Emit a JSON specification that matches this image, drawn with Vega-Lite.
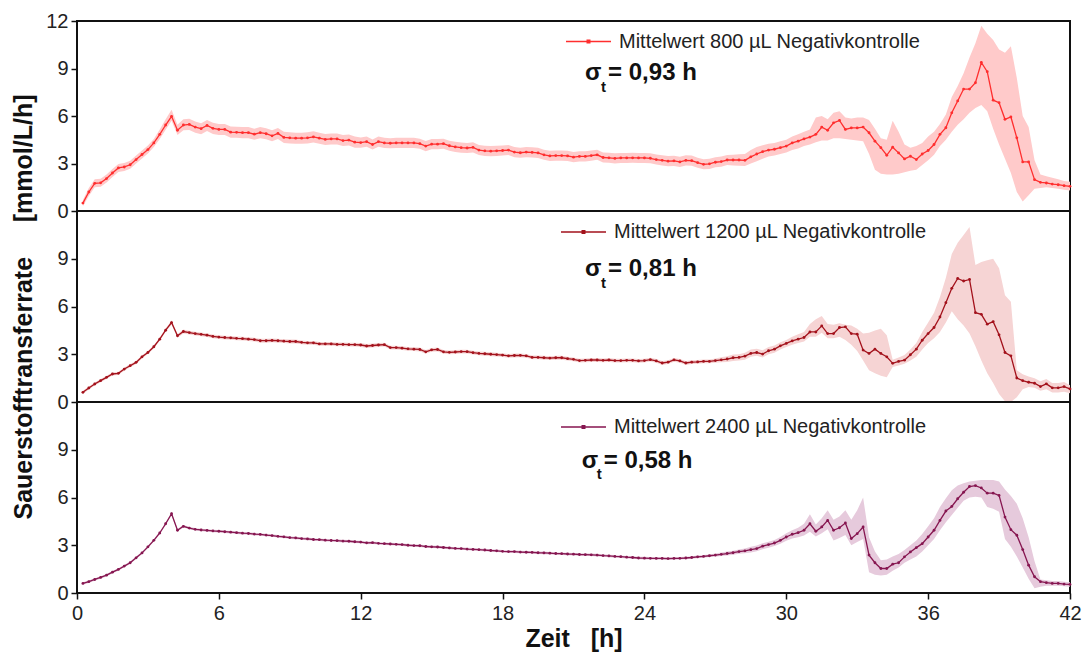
{
"$schema": "https://vega.github.io/schema/vega-lite/v6.json",
"padding": {"left": 10, "top": 10, "right": 5, "bottom": 5},
"background": "white",
"spacing": 0,
"bounds": "flush",
"datasets": {
"a": [
{"t":0.25,"m":0.5,"l":0.3,"h":0.7},{"t":0.5,"m":1.2,"l":0.95,"h":1.45},{"t":0.75,"m":1.75,"l":1.5,"h":2.0},{"t":1.0,"m":1.78,"l":1.53,"h":2.03},{"t":1.25,"m":2.05,"l":1.8,"h":2.3},{"t":1.5,"m":2.4,"l":2.15,"h":2.65},{"t":1.75,"m":2.72,"l":2.47,"h":2.97},{"t":2.0,"m":2.78,"l":2.53,"h":3.03},{"t":2.25,"m":2.92,"l":2.67,"h":3.17},{"t":2.5,"m":3.25,"l":3.0,"h":3.5},{"t":2.75,"m":3.57,"l":3.32,"h":3.82},{"t":3.0,"m":3.88,"l":3.63,"h":4.13},{"t":3.25,"m":4.3,"l":4.05,"h":4.55},{"t":3.5,"m":4.84,"l":4.55,"h":5.15},{"t":3.75,"m":5.43,"l":5.13,"h":5.8},{"t":4.0,"m":5.98,"l":5.7,"h":6.4},
{"t":4.25,"m":5.1,"l":4.8,"h":5.45},{"t":4.5,"m":5.43,"l":5.1,"h":5.8},{"t":4.75,"m":5.47,"l":5.12,"h":5.82},{"t":5.0,"m":5.3,"l":4.95,"h":5.65},{"t":5.25,"m":5.2,"l":4.85,"h":5.55},{"t":5.5,"m":5.4,"l":5.05,"h":5.75},{"t":5.75,"m":5.22,"l":4.87,"h":5.57},{"t":6.0,"m":5.15,"l":4.8,"h":5.5},{"t":6.25,"m":5.15,"l":4.8,"h":5.5},{"t":6.5,"m":4.98,"l":4.63,"h":5.33},{"t":6.75,"m":4.97,"l":4.62,"h":5.32},{"t":7.0,"m":4.95,"l":4.6,"h":5.3},{"t":7.25,"m":4.95,"l":4.6,"h":5.3},{"t":7.5,"m":4.85,"l":4.5,"h":5.2},{"t":7.75,"m":4.95,"l":4.6,"h":5.3},{"t":8.0,"m":4.88,"l":4.53,"h":5.23},
{"t":8.25,"m":4.75,"l":4.4,"h":5.1},{"t":8.5,"m":4.9,"l":4.55,"h":5.25},{"t":8.75,"m":4.65,"l":4.3,"h":5.0},{"t":9.0,"m":4.62,"l":4.27,"h":4.97},{"t":9.25,"m":4.6,"l":4.25,"h":4.95},{"t":9.5,"m":4.6,"l":4.25,"h":4.95},{"t":9.75,"m":4.62,"l":4.27,"h":4.97},{"t":10.0,"m":4.68,"l":4.33,"h":5.03},{"t":10.25,"m":4.6,"l":4.25,"h":4.95},{"t":10.5,"m":4.52,"l":4.17,"h":4.87},{"t":10.75,"m":4.55,"l":4.2,"h":4.9},{"t":11.0,"m":4.55,"l":4.2,"h":4.9},{"t":11.25,"m":4.45,"l":4.1,"h":4.8},{"t":11.5,"m":4.48,"l":4.13,"h":4.83},{"t":11.75,"m":4.35,"l":4.0,"h":4.7},{"t":12.0,"m":4.32,"l":4.0,"h":4.64},
{"t":12.25,"m":4.38,"l":4.06,"h":4.7},{"t":12.5,"m":4.2,"l":3.88,"h":4.52},{"t":12.75,"m":4.38,"l":4.06,"h":4.7},{"t":13.0,"m":4.3,"l":3.98,"h":4.62},{"t":13.25,"m":4.28,"l":3.96,"h":4.6},{"t":13.5,"m":4.3,"l":3.98,"h":4.62},{"t":13.75,"m":4.3,"l":3.98,"h":4.62},{"t":14.0,"m":4.3,"l":3.98,"h":4.62},{"t":14.25,"m":4.3,"l":3.98,"h":4.62},{"t":14.5,"m":4.25,"l":3.93,"h":4.57},{"t":14.75,"m":4.1,"l":3.78,"h":4.42},{"t":15.0,"m":4.22,"l":3.9,"h":4.54},{"t":15.25,"m":4.22,"l":3.9,"h":4.54},{"t":15.5,"m":4.25,"l":3.93,"h":4.57},{"t":15.75,"m":4.12,"l":3.8,"h":4.44},{"t":16.0,"m":4.05,"l":3.73,"h":4.37},
{"t":16.25,"m":4.0,"l":3.68,"h":4.32},{"t":16.5,"m":3.98,"l":3.66,"h":4.3},{"t":16.75,"m":4.02,"l":3.7,"h":4.34},{"t":17.0,"m":3.85,"l":3.53,"h":4.17},{"t":17.25,"m":3.8,"l":3.48,"h":4.12},{"t":17.5,"m":3.78,"l":3.46,"h":4.1},{"t":17.75,"m":3.8,"l":3.48,"h":4.12},{"t":18.0,"m":3.82,"l":3.5,"h":4.14},{"t":18.25,"m":3.85,"l":3.53,"h":4.17},{"t":18.5,"m":3.72,"l":3.4,"h":4.04},{"t":18.75,"m":3.68,"l":3.36,"h":4.0},{"t":19.0,"m":3.72,"l":3.4,"h":4.04},{"t":19.25,"m":3.7,"l":3.38,"h":4.02},{"t":19.5,"m":3.67,"l":3.35,"h":3.99},{"t":19.75,"m":3.55,"l":3.23,"h":3.87},{"t":20.0,"m":3.48,"l":3.16,"h":3.8},
{"t":20.25,"m":3.5,"l":3.18,"h":3.82},{"t":20.5,"m":3.5,"l":3.18,"h":3.82},{"t":20.75,"m":3.48,"l":3.16,"h":3.8},{"t":21.0,"m":3.4,"l":3.08,"h":3.72},{"t":21.25,"m":3.45,"l":3.13,"h":3.77},{"t":21.5,"m":3.45,"l":3.13,"h":3.77},{"t":21.75,"m":3.5,"l":3.18,"h":3.82},{"t":22.0,"m":3.55,"l":3.23,"h":3.87},{"t":22.25,"m":3.38,"l":3.06,"h":3.7},{"t":22.5,"m":3.36,"l":3.04,"h":3.68},{"t":22.75,"m":3.32,"l":3.0,"h":3.64},{"t":23.0,"m":3.35,"l":3.03,"h":3.67},{"t":23.25,"m":3.35,"l":3.03,"h":3.67},{"t":23.5,"m":3.36,"l":3.04,"h":3.68},{"t":23.75,"m":3.35,"l":3.03,"h":3.67},{"t":24.0,"m":3.35,"l":3.03,"h":3.67},
{"t":24.25,"m":3.33,"l":3.01,"h":3.65},{"t":24.5,"m":3.25,"l":2.93,"h":3.57},{"t":24.75,"m":3.2,"l":2.88,"h":3.52},{"t":25.0,"m":3.15,"l":2.83,"h":3.47},{"t":25.25,"m":3.17,"l":2.85,"h":3.49},{"t":25.5,"m":3.1,"l":2.78,"h":3.42},{"t":25.75,"m":3.2,"l":2.88,"h":3.52},{"t":26.0,"m":3.18,"l":2.86,"h":3.5},{"t":26.25,"m":3.05,"l":2.73,"h":3.37},{"t":26.5,"m":2.95,"l":2.63,"h":3.27},{"t":26.75,"m":2.98,"l":2.66,"h":3.3},{"t":27.0,"m":3.08,"l":2.76,"h":3.4},{"t":27.25,"m":3.12,"l":2.8,"h":3.44},{"t":27.5,"m":3.22,"l":2.9,"h":3.54},{"t":27.75,"m":3.22,"l":2.88,"h":3.56},{"t":28.0,"m":3.22,"l":2.86,"h":3.58},
{"t":28.25,"m":3.2,"l":2.85,"h":3.6},{"t":28.5,"m":3.42,"l":3.0,"h":3.85},{"t":28.75,"m":3.6,"l":3.15,"h":4.05},{"t":29.0,"m":3.75,"l":3.3,"h":4.15},{"t":29.25,"m":3.85,"l":3.45,"h":4.25},{"t":29.5,"m":3.9,"l":3.5,"h":4.3},{"t":29.75,"m":4.0,"l":3.6,"h":4.4},{"t":30.0,"m":4.1,"l":3.7,"h":4.5},{"t":30.25,"m":4.3,"l":3.85,"h":4.7},{"t":30.5,"m":4.41,"l":3.95,"h":4.85},{"t":30.75,"m":4.55,"l":4.1,"h":5.0},{"t":31.0,"m":4.67,"l":4.2,"h":5.15},{"t":31.25,"m":4.84,"l":4.35,"h":5.9},{"t":31.5,"m":5.3,"l":4.45,"h":6.0},{"t":31.75,"m":5.1,"l":4.45,"h":5.8},{"t":32.0,"m":5.57,"l":4.6,"h":6.2},
{"t":32.25,"m":5.72,"l":4.6,"h":6.3},{"t":32.5,"m":5.15,"l":4.55,"h":5.9},{"t":32.75,"m":5.25,"l":4.5,"h":5.85},{"t":33.0,"m":5.25,"l":4.45,"h":5.9},{"t":33.25,"m":5.3,"l":4.4,"h":5.9},{"t":33.5,"m":4.94,"l":3.6,"h":5.75},{"t":33.75,"m":4.41,"l":2.6,"h":5.2},{"t":34.0,"m":4.0,"l":2.35,"h":4.6},{"t":34.25,"m":3.52,"l":2.3,"h":4.5},{"t":34.5,"m":4.03,"l":2.3,"h":5.7},{"t":34.75,"m":3.67,"l":2.35,"h":5.0},{"t":35.0,"m":3.29,"l":2.45,"h":4.2},{"t":35.25,"m":3.46,"l":2.55,"h":4.0},{"t":35.5,"m":3.25,"l":2.6,"h":4.1},{"t":35.75,"m":3.6,"l":2.9,"h":4.3},{"t":36.0,"m":3.82,"l":3.2,"h":4.7},
{"t":36.25,"m":4.2,"l":3.55,"h":5.0},{"t":36.5,"m":4.84,"l":4.1,"h":5.5},{"t":36.75,"m":5.26,"l":4.5,"h":6.1},{"t":37.0,"m":6.2,"l":5.0,"h":7.2},{"t":37.25,"m":6.95,"l":5.45,"h":7.9},{"t":37.5,"m":7.7,"l":5.8,"h":8.7},{"t":37.75,"m":7.7,"l":6.2,"h":9.7},{"t":38.0,"m":8.1,"l":6.5,"h":10.6},{"t":38.25,"m":9.38,"l":6.7,"h":11.7},{"t":38.5,"m":8.8,"l":6.3,"h":11.2},{"t":38.75,"m":7.0,"l":5.2,"h":10.8},{"t":39.0,"m":6.84,"l":4.2,"h":10.2},{"t":39.25,"m":5.79,"l":3.3,"h":10.0},{"t":39.5,"m":5.94,"l":2.4,"h":10.4},{"t":39.75,"m":4.62,"l":1.2,"h":8.4},{"t":40.0,"m":3.1,"l":0.6,"h":6.0},
{"t":40.25,"m":3.1,"l":1.0,"h":5.3},{"t":40.5,"m":1.98,"l":1.4,"h":3.2},{"t":40.75,"m":1.81,"l":1.45,"h":2.3},{"t":41.0,"m":1.77,"l":1.5,"h":2.2},{"t":41.25,"m":1.7,"l":1.45,"h":2.1},{"t":41.5,"m":1.66,"l":1.4,"h":2.0},{"t":41.75,"m":1.6,"l":1.35,"h":1.9},{"t":42.0,"m":1.56,"l":1.3,"h":1.85}
],
"b": [
{"t":0.25,"m":0.61,"l":0.51,"h":0.71},{"t":0.5,"m":0.88,"l":0.78,"h":0.98},{"t":0.75,"m":1.13,"l":1.03,"h":1.23},{"t":1.0,"m":1.34,"l":1.24,"h":1.44},{"t":1.25,"m":1.55,"l":1.45,"h":1.65},{"t":1.5,"m":1.76,"l":1.66,"h":1.86},{"t":1.75,"m":1.8,"l":1.7,"h":1.9},{"t":2.0,"m":2.07,"l":1.97,"h":2.17},{"t":2.25,"m":2.28,"l":2.18,"h":2.38},{"t":2.5,"m":2.49,"l":2.39,"h":2.59},{"t":2.75,"m":2.84,"l":2.74,"h":2.94},{"t":3.0,"m":3.11,"l":3.01,"h":3.21},{"t":3.25,"m":3.47,"l":3.37,"h":3.57},{"t":3.5,"m":3.95,"l":3.85,"h":4.05},{"t":3.75,"m":4.51,"l":4.41,"h":4.61},{"t":4.0,"m":4.99,"l":4.85,"h":5.13},
{"t":4.25,"m":4.16,"l":4.04,"h":4.28},{"t":4.5,"m":4.43,"l":4.31,"h":4.55},{"t":4.75,"m":4.36,"l":4.24,"h":4.48},{"t":5.0,"m":4.3,"l":4.18,"h":4.42},{"t":5.25,"m":4.25,"l":4.13,"h":4.37},{"t":5.5,"m":4.2,"l":4.08,"h":4.32},{"t":5.75,"m":4.12,"l":4.0,"h":4.24},{"t":6.0,"m":4.08,"l":3.96,"h":4.2},{"t":6.25,"m":4.05,"l":3.93,"h":4.17},{"t":6.5,"m":4.03,"l":3.91,"h":4.15},{"t":6.75,"m":4.0,"l":3.88,"h":4.12},{"t":7.0,"m":3.98,"l":3.86,"h":4.1},{"t":7.25,"m":3.95,"l":3.83,"h":4.07},{"t":7.5,"m":3.92,"l":3.8,"h":4.04},{"t":7.75,"m":3.85,"l":3.73,"h":3.97},{"t":8.0,"m":3.85,"l":3.73,"h":3.97},
{"t":8.25,"m":3.87,"l":3.75,"h":3.99},{"t":8.5,"m":3.85,"l":3.73,"h":3.97},{"t":8.75,"m":3.82,"l":3.7,"h":3.94},{"t":9.0,"m":3.8,"l":3.68,"h":3.92},{"t":9.25,"m":3.8,"l":3.68,"h":3.92},{"t":9.5,"m":3.75,"l":3.63,"h":3.87},{"t":9.75,"m":3.72,"l":3.6,"h":3.84},{"t":10.0,"m":3.72,"l":3.6,"h":3.84},{"t":10.25,"m":3.65,"l":3.53,"h":3.77},{"t":10.5,"m":3.65,"l":3.53,"h":3.77},{"t":10.75,"m":3.65,"l":3.53,"h":3.77},{"t":11.0,"m":3.62,"l":3.5,"h":3.74},{"t":11.25,"m":3.62,"l":3.5,"h":3.74},{"t":11.5,"m":3.6,"l":3.48,"h":3.72},{"t":11.75,"m":3.6,"l":3.48,"h":3.72},{"t":12.0,"m":3.58,"l":3.46,"h":3.7},
{"t":12.25,"m":3.52,"l":3.4,"h":3.64},{"t":12.5,"m":3.55,"l":3.43,"h":3.67},{"t":12.75,"m":3.58,"l":3.46,"h":3.7},{"t":13.0,"m":3.6,"l":3.48,"h":3.72},{"t":13.25,"m":3.42,"l":3.3,"h":3.54},{"t":13.5,"m":3.42,"l":3.3,"h":3.54},{"t":13.75,"m":3.38,"l":3.26,"h":3.5},{"t":14.0,"m":3.34,"l":3.22,"h":3.46},{"t":14.25,"m":3.32,"l":3.2,"h":3.44},{"t":14.5,"m":3.3,"l":3.18,"h":3.42},{"t":14.75,"m":3.15,"l":3.03,"h":3.27},{"t":15.0,"m":3.28,"l":3.16,"h":3.4},{"t":15.25,"m":3.3,"l":3.18,"h":3.42},{"t":15.5,"m":3.15,"l":3.03,"h":3.27},{"t":15.75,"m":3.12,"l":3.0,"h":3.24},{"t":16.0,"m":3.14,"l":3.02,"h":3.26},
{"t":16.25,"m":3.17,"l":3.05,"h":3.29},{"t":16.5,"m":3.16,"l":3.04,"h":3.28},{"t":16.75,"m":3.1,"l":2.98,"h":3.22},{"t":17.0,"m":3.05,"l":2.93,"h":3.17},{"t":17.25,"m":3.03,"l":2.91,"h":3.15},{"t":17.5,"m":3.0,"l":2.88,"h":3.12},{"t":17.75,"m":2.98,"l":2.86,"h":3.1},{"t":18.0,"m":2.95,"l":2.83,"h":3.07},{"t":18.25,"m":2.9,"l":2.78,"h":3.02},{"t":18.5,"m":2.92,"l":2.8,"h":3.04},{"t":18.75,"m":2.93,"l":2.81,"h":3.05},{"t":19.0,"m":2.9,"l":2.78,"h":3.02},{"t":19.25,"m":2.8,"l":2.68,"h":2.92},{"t":19.5,"m":2.8,"l":2.68,"h":2.92},{"t":19.75,"m":2.78,"l":2.66,"h":2.9},{"t":20.0,"m":2.76,"l":2.64,"h":2.88},
{"t":20.25,"m":2.78,"l":2.66,"h":2.9},{"t":20.5,"m":2.78,"l":2.66,"h":2.9},{"t":20.75,"m":2.72,"l":2.6,"h":2.84},{"t":21.0,"m":2.68,"l":2.56,"h":2.8},{"t":21.25,"m":2.6,"l":2.48,"h":2.72},{"t":21.5,"m":2.62,"l":2.5,"h":2.74},{"t":21.75,"m":2.64,"l":2.52,"h":2.76},{"t":22.0,"m":2.64,"l":2.52,"h":2.76},{"t":22.25,"m":2.62,"l":2.5,"h":2.74},{"t":22.5,"m":2.64,"l":2.52,"h":2.76},{"t":22.75,"m":2.6,"l":2.48,"h":2.72},{"t":23.0,"m":2.6,"l":2.48,"h":2.72},{"t":23.25,"m":2.62,"l":2.5,"h":2.74},{"t":23.5,"m":2.62,"l":2.5,"h":2.74},{"t":23.75,"m":2.58,"l":2.46,"h":2.7},{"t":24.0,"m":2.6,"l":2.48,"h":2.72},
{"t":24.25,"m":2.66,"l":2.54,"h":2.78},{"t":24.5,"m":2.58,"l":2.46,"h":2.7},{"t":24.75,"m":2.45,"l":2.33,"h":2.57},{"t":25.0,"m":2.5,"l":2.38,"h":2.62},{"t":25.25,"m":2.65,"l":2.53,"h":2.77},{"t":25.5,"m":2.58,"l":2.46,"h":2.7},{"t":25.75,"m":2.45,"l":2.33,"h":2.57},{"t":26.0,"m":2.5,"l":2.38,"h":2.62},{"t":26.25,"m":2.52,"l":2.4,"h":2.64},{"t":26.5,"m":2.55,"l":2.43,"h":2.67},{"t":26.75,"m":2.55,"l":2.43,"h":2.67},{"t":27.0,"m":2.6,"l":2.46,"h":2.74},{"t":27.25,"m":2.65,"l":2.49,"h":2.81},{"t":27.5,"m":2.7,"l":2.52,"h":2.88},{"t":27.75,"m":2.78,"l":2.58,"h":2.98},{"t":28.0,"m":2.8,"l":2.6,"h":3.0},
{"t":28.25,"m":2.88,"l":2.66,"h":3.1},{"t":28.5,"m":3.05,"l":2.85,"h":3.3},{"t":28.75,"m":3.11,"l":2.9,"h":3.35},{"t":29.0,"m":3.01,"l":2.8,"h":3.25},{"t":29.25,"m":3.22,"l":3.0,"h":3.45},{"t":29.5,"m":3.32,"l":3.1,"h":3.55},{"t":29.75,"m":3.53,"l":3.3,"h":3.75},{"t":30.0,"m":3.68,"l":3.45,"h":3.9},{"t":30.25,"m":3.84,"l":3.6,"h":4.1},{"t":30.5,"m":3.95,"l":3.7,"h":4.25},{"t":30.75,"m":4.05,"l":3.8,"h":4.4},{"t":31.0,"m":4.4,"l":4.1,"h":4.9},{"t":31.25,"m":4.4,"l":4.1,"h":5.2},{"t":31.5,"m":4.78,"l":4.35,"h":5.4},{"t":31.75,"m":4.3,"l":4.0,"h":4.9},{"t":32.0,"m":4.3,"l":4.0,"h":4.85},
{"t":32.25,"m":4.68,"l":4.1,"h":4.95},{"t":32.5,"m":4.72,"l":3.9,"h":4.85},{"t":32.75,"m":4.3,"l":3.6,"h":4.8},{"t":33.0,"m":4.26,"l":3.2,"h":4.6},{"t":33.25,"m":3.26,"l":2.6,"h":4.3},{"t":33.5,"m":3.05,"l":2.0,"h":4.35},{"t":33.75,"m":3.32,"l":1.8,"h":4.5},{"t":34.0,"m":3.05,"l":1.65,"h":4.6},{"t":34.25,"m":2.84,"l":1.55,"h":4.2},{"t":34.5,"m":2.43,"l":2.2,"h":2.65},{"t":34.75,"m":2.55,"l":2.3,"h":2.8},{"t":35.0,"m":2.63,"l":2.4,"h":2.95},{"t":35.25,"m":2.97,"l":2.6,"h":3.3},{"t":35.5,"m":3.32,"l":2.85,"h":3.7},{"t":35.75,"m":3.88,"l":3.3,"h":4.4},{"t":36.0,"m":4.3,"l":3.7,"h":5.0},
{"t":36.25,"m":4.68,"l":4.0,"h":5.6},{"t":36.5,"m":5.34,"l":4.4,"h":6.6},{"t":36.75,"m":6.24,"l":5.0,"h":7.8},{"t":37.0,"m":7.14,"l":5.7,"h":9.3},{"t":37.25,"m":7.76,"l":5.2,"h":10.0},{"t":37.5,"m":7.6,"l":4.8,"h":10.5},{"t":37.75,"m":7.7,"l":4.3,"h":11.0},{"t":38.0,"m":5.61,"l":3.5,"h":8.6},{"t":38.25,"m":5.51,"l":2.6,"h":8.8},{"t":38.5,"m":4.89,"l":1.8,"h":8.9},{"t":38.75,"m":5.05,"l":1.2,"h":9.0},{"t":39.0,"m":4.22,"l":0.5,"h":8.4},{"t":39.25,"m":3.11,"l":0.05,"h":6.7},{"t":39.5,"m":2.9,"l":0.0,"h":6.3},{"t":39.75,"m":1.51,"l":0.3,"h":2.0},{"t":40.0,"m":1.34,"l":0.8,"h":1.75},
{"t":40.25,"m":1.24,"l":0.95,"h":1.6},{"t":40.5,"m":1.18,"l":0.9,"h":1.5},{"t":40.75,"m":0.97,"l":0.7,"h":1.3},{"t":41.0,"m":1.14,"l":0.8,"h":1.45},{"t":41.25,"m":0.89,"l":0.6,"h":1.2},{"t":41.5,"m":0.89,"l":0.6,"h":1.2},{"t":41.75,"m":0.97,"l":0.65,"h":1.25},{"t":42.0,"m":0.82,"l":0.55,"h":1.05}
],
"c": [
{"t":0.25,"m":0.6,"l":0.52,"h":0.68},{"t":0.5,"m":0.71,"l":0.63,"h":0.79},{"t":0.75,"m":0.85,"l":0.77,"h":0.93},{"t":1.0,"m":0.98,"l":0.9,"h":1.06},{"t":1.25,"m":1.12,"l":1.04,"h":1.2},{"t":1.5,"m":1.31,"l":1.23,"h":1.39},{"t":1.75,"m":1.48,"l":1.4,"h":1.56},{"t":2.0,"m":1.69,"l":1.61,"h":1.77},{"t":2.25,"m":1.9,"l":1.82,"h":1.98},{"t":2.5,"m":2.21,"l":2.13,"h":2.29},{"t":2.75,"m":2.52,"l":2.44,"h":2.6},{"t":3.0,"m":2.9,"l":2.82,"h":2.98},{"t":3.25,"m":3.31,"l":3.23,"h":3.39},{"t":3.5,"m":3.77,"l":3.69,"h":3.85},{"t":3.75,"m":4.35,"l":4.27,"h":4.43},{"t":4.0,"m":4.98,"l":4.88,"h":5.08},
{"t":4.25,"m":3.94,"l":3.86,"h":4.02},{"t":4.5,"m":4.19,"l":4.11,"h":4.27},{"t":4.75,"m":4.08,"l":4.0,"h":4.16},{"t":5.0,"m":4.0,"l":3.92,"h":4.08},{"t":5.25,"m":3.96,"l":3.88,"h":4.04},{"t":5.5,"m":3.93,"l":3.85,"h":4.01},{"t":5.75,"m":3.9,"l":3.82,"h":3.98},{"t":6.0,"m":3.88,"l":3.8,"h":3.96},{"t":6.25,"m":3.85,"l":3.77,"h":3.93},{"t":6.5,"m":3.82,"l":3.74,"h":3.9},{"t":6.75,"m":3.79,"l":3.71,"h":3.87},{"t":7.0,"m":3.76,"l":3.68,"h":3.84},{"t":7.25,"m":3.74,"l":3.66,"h":3.82},{"t":7.5,"m":3.7,"l":3.62,"h":3.78},{"t":7.75,"m":3.68,"l":3.6,"h":3.76},{"t":8.0,"m":3.64,"l":3.56,"h":3.72},
{"t":8.25,"m":3.61,"l":3.53,"h":3.69},{"t":8.5,"m":3.56,"l":3.48,"h":3.64},{"t":8.75,"m":3.53,"l":3.45,"h":3.61},{"t":9.0,"m":3.48,"l":3.4,"h":3.56},{"t":9.25,"m":3.46,"l":3.38,"h":3.54},{"t":9.5,"m":3.42,"l":3.34,"h":3.5},{"t":9.75,"m":3.4,"l":3.32,"h":3.48},{"t":10.0,"m":3.36,"l":3.28,"h":3.44},{"t":10.25,"m":3.35,"l":3.27,"h":3.43},{"t":10.5,"m":3.32,"l":3.24,"h":3.4},{"t":10.75,"m":3.3,"l":3.22,"h":3.38},{"t":11.0,"m":3.29,"l":3.21,"h":3.37},{"t":11.25,"m":3.26,"l":3.18,"h":3.34},{"t":11.5,"m":3.25,"l":3.17,"h":3.33},{"t":11.75,"m":3.22,"l":3.14,"h":3.3},{"t":12.0,"m":3.2,"l":3.12,"h":3.28},
{"t":12.25,"m":3.15,"l":3.07,"h":3.23},{"t":12.5,"m":3.16,"l":3.08,"h":3.24},{"t":12.75,"m":3.12,"l":3.04,"h":3.2},{"t":13.0,"m":3.1,"l":3.02,"h":3.18},{"t":13.25,"m":3.08,"l":3.0,"h":3.16},{"t":13.5,"m":3.06,"l":2.98,"h":3.14},{"t":13.75,"m":3.04,"l":2.96,"h":3.12},{"t":14.0,"m":3.0,"l":2.92,"h":3.08},{"t":14.25,"m":2.98,"l":2.9,"h":3.06},{"t":14.5,"m":2.97,"l":2.89,"h":3.05},{"t":14.75,"m":2.92,"l":2.84,"h":3.0},{"t":15.0,"m":2.9,"l":2.82,"h":2.98},{"t":15.25,"m":2.89,"l":2.81,"h":2.97},{"t":15.5,"m":2.86,"l":2.78,"h":2.94},{"t":15.75,"m":2.83,"l":2.75,"h":2.91},{"t":16.0,"m":2.8,"l":2.72,"h":2.88},
{"t":16.25,"m":2.79,"l":2.71,"h":2.87},{"t":16.5,"m":2.76,"l":2.68,"h":2.84},{"t":16.75,"m":2.74,"l":2.66,"h":2.82},{"t":17.0,"m":2.72,"l":2.64,"h":2.8},{"t":17.25,"m":2.7,"l":2.62,"h":2.78},{"t":17.5,"m":2.67,"l":2.59,"h":2.75},{"t":17.75,"m":2.65,"l":2.57,"h":2.73},{"t":18.0,"m":2.62,"l":2.54,"h":2.7},{"t":18.25,"m":2.6,"l":2.52,"h":2.68},{"t":18.5,"m":2.6,"l":2.52,"h":2.68},{"t":18.75,"m":2.57,"l":2.49,"h":2.65},{"t":19.0,"m":2.56,"l":2.48,"h":2.64},{"t":19.25,"m":2.55,"l":2.47,"h":2.63},{"t":19.5,"m":2.53,"l":2.45,"h":2.61},{"t":19.75,"m":2.52,"l":2.44,"h":2.6},{"t":20.0,"m":2.5,"l":2.42,"h":2.58},
{"t":20.25,"m":2.48,"l":2.4,"h":2.56},{"t":20.5,"m":2.47,"l":2.39,"h":2.55},{"t":20.75,"m":2.45,"l":2.37,"h":2.53},{"t":21.0,"m":2.44,"l":2.36,"h":2.52},{"t":21.25,"m":2.42,"l":2.34,"h":2.5},{"t":21.5,"m":2.41,"l":2.33,"h":2.49},{"t":21.75,"m":2.4,"l":2.32,"h":2.48},{"t":22.0,"m":2.38,"l":2.3,"h":2.46},{"t":22.25,"m":2.35,"l":2.27,"h":2.43},{"t":22.5,"m":2.33,"l":2.25,"h":2.41},{"t":22.75,"m":2.3,"l":2.22,"h":2.38},{"t":23.0,"m":2.28,"l":2.2,"h":2.36},{"t":23.25,"m":2.25,"l":2.17,"h":2.33},{"t":23.5,"m":2.23,"l":2.15,"h":2.31},{"t":23.75,"m":2.2,"l":2.12,"h":2.28},{"t":24.0,"m":2.19,"l":2.11,"h":2.27},
{"t":24.25,"m":2.18,"l":2.1,"h":2.26},{"t":24.5,"m":2.17,"l":2.09,"h":2.25},{"t":24.75,"m":2.17,"l":2.09,"h":2.25},{"t":25.0,"m":2.16,"l":2.08,"h":2.24},{"t":25.25,"m":2.17,"l":2.09,"h":2.25},{"t":25.5,"m":2.18,"l":2.1,"h":2.26},{"t":25.75,"m":2.2,"l":2.12,"h":2.28},{"t":26.0,"m":2.23,"l":2.15,"h":2.31},{"t":26.25,"m":2.27,"l":2.19,"h":2.35},{"t":26.5,"m":2.3,"l":2.22,"h":2.38},{"t":26.75,"m":2.34,"l":2.26,"h":2.42},{"t":27.0,"m":2.38,"l":2.28,"h":2.48},{"t":27.25,"m":2.43,"l":2.32,"h":2.54},{"t":27.5,"m":2.48,"l":2.36,"h":2.6},{"t":27.75,"m":2.53,"l":2.4,"h":2.66},{"t":28.0,"m":2.6,"l":2.46,"h":2.74},
{"t":28.25,"m":2.65,"l":2.5,"h":2.8},{"t":28.5,"m":2.72,"l":2.55,"h":2.9},{"t":28.75,"m":2.79,"l":2.62,"h":2.98},{"t":29.0,"m":2.94,"l":2.75,"h":3.12},{"t":29.25,"m":3.04,"l":2.85,"h":3.22},{"t":29.5,"m":3.14,"l":2.95,"h":3.33},{"t":29.75,"m":3.31,"l":3.1,"h":3.52},{"t":30.0,"m":3.52,"l":3.28,"h":3.75},{"t":30.25,"m":3.69,"l":3.42,"h":3.95},{"t":30.5,"m":3.79,"l":3.5,"h":4.1},{"t":30.75,"m":3.94,"l":3.62,"h":4.35},{"t":31.0,"m":4.35,"l":3.85,"h":4.95},{"t":31.25,"m":3.88,"l":3.55,"h":4.3},{"t":31.5,"m":4.15,"l":3.75,"h":4.7},{"t":31.75,"m":4.56,"l":4.0,"h":5.2},{"t":32.0,"m":3.94,"l":3.3,"h":4.6},
{"t":32.25,"m":4.1,"l":3.45,"h":4.8},{"t":32.5,"m":4.4,"l":3.65,"h":5.2},{"t":32.75,"m":3.42,"l":3.0,"h":4.6},{"t":33.0,"m":3.73,"l":3.2,"h":5.2},{"t":33.25,"m":4.15,"l":3.4,"h":6.0},{"t":33.5,"m":2.38,"l":1.3,"h":3.5},{"t":33.75,"m":1.9,"l":1.15,"h":2.6},{"t":34.0,"m":1.54,"l":1.1,"h":2.05},{"t":34.25,"m":1.54,"l":1.15,"h":2.1},{"t":34.5,"m":1.81,"l":1.4,"h":2.3},{"t":34.75,"m":1.9,"l":1.6,"h":2.45},{"t":35.0,"m":2.27,"l":1.9,"h":2.7},{"t":35.25,"m":2.58,"l":2.1,"h":3.0},{"t":35.5,"m":2.85,"l":2.3,"h":3.3},{"t":35.75,"m":3.1,"l":2.6,"h":3.7},{"t":36.0,"m":3.52,"l":3.0,"h":4.2},
{"t":36.25,"m":3.94,"l":3.4,"h":4.7},{"t":36.5,"m":4.56,"l":3.95,"h":5.4},{"t":36.75,"m":5.15,"l":4.45,"h":5.95},{"t":37.0,"m":5.44,"l":4.9,"h":6.45},{"t":37.25,"m":5.92,"l":5.35,"h":6.75},{"t":37.5,"m":6.33,"l":5.8,"h":6.9},{"t":37.75,"m":6.69,"l":6.0,"h":7.0},{"t":38.0,"m":6.75,"l":6.05,"h":7.05},{"t":38.25,"m":6.6,"l":6.0,"h":7.1},{"t":38.5,"m":6.27,"l":5.4,"h":7.1},{"t":38.75,"m":6.27,"l":5.3,"h":7.1},{"t":39.0,"m":6.13,"l":5.1,"h":7.0},{"t":39.25,"m":4.77,"l":3.4,"h":6.5},{"t":39.5,"m":3.98,"l":2.9,"h":6.1},{"t":39.75,"m":3.63,"l":2.3,"h":5.6},{"t":40.0,"m":2.73,"l":1.6,"h":4.7},
{"t":40.25,"m":1.75,"l":0.9,"h":3.5},{"t":40.5,"m":1.02,"l":0.3,"h":2.0},{"t":40.75,"m":0.71,"l":0.4,"h":0.85},{"t":41.0,"m":0.65,"l":0.45,"h":0.8},{"t":41.25,"m":0.6,"l":0.45,"h":0.75},{"t":41.5,"m":0.6,"l":0.45,"h":0.75},{"t":41.75,"m":0.56,"l":0.42,"h":0.7},{"t":42.0,"m":0.54,"l":0.4,"h":0.68}
]
},
"resolve": {"scale": {"color": "independent"}},
"vconcat": [
{
"width": 993, "height": 190,
"layer": [
{"data": {"name": "a"}, "mark": {"type": "area", "color": "#ffcaca", "opacity": 1}, "encoding": {"x": {"field": "t", "type": "quantitative", "scale": {"domain": [0, 42], "nice": false}, "axis": null}, "y": {"field": "l", "type": "quantitative", "scale": {"domain": [0, 12], "nice": false}, "axis": {"values": [0, 3, 6, 9, 12], "title": null}}, "y2": {"field": "h"}}},
{"data": {"name": "a"}, "mark": {"type": "line", "strokeWidth": 1.3}, "encoding": {"x": {"field": "t", "type": "quantitative"}, "y": {"field": "m", "type": "quantitative"}, "color": {"datum": "Mittelwert 800 µL Negativkontrolle", "scale": {"domain": ["Mittelwert 800 µL Negativkontrolle"], "range": ["#ff2e2e"]}, "legend": {"orient": "none", "legendX": 488, "legendY": -3}}}},
{"data": {"name": "a"}, "mark": {"type": "point", "filled": true, "shape": "circle", "size": 8, "opacity": 1, "color": "#ff2e2e"}, "encoding": {"x": {"field": "t", "type": "quantitative"}, "y": {"field": "m", "type": "quantitative"}}},
{"data": {"values": [{"s": "σ"}]}, "mark": {"type": "text", "align": "left", "baseline": "middle", "fontSize": 24, "fontWeight": "bold", "color": "#111"}, "encoding": {"x": {"datum": 21.49}, "y": {"datum": 8.73}, "text": {"field": "s"}}},
{"data": {"values": [{"s": "t"}]}, "mark": {"type": "text", "align": "left", "baseline": "middle", "fontSize": 15, "fontWeight": "bold", "color": "#111", "dx": 16, "dy": 14}, "encoding": {"x": {"datum": 21.49}, "y": {"datum": 8.73}, "text": {"field": "s"}}},
{"data": {"values": [{"s": "= 0,93 h"}]}, "mark": {"type": "text", "align": "left", "baseline": "middle", "fontSize": 24, "fontWeight": "bold", "color": "#111", "dx": 23}, "encoding": {"x": {"datum": 21.49}, "y": {"datum": 8.73}, "text": {"field": "s"}}}
]
},
{
"width": 993, "height": 191,
"layer": [
{"data": {"name": "b"}, "mark": {"type": "area", "color": "#f6d4d4", "opacity": 1}, "encoding": {"x": {"field": "t", "type": "quantitative", "scale": {"domain": [0, 42], "nice": false}, "axis": null}, "y": {"field": "l", "type": "quantitative", "scale": {"domain": [0, 12], "nice": false}, "axis": {"values": [0, 3, 6, 9], "title": "Sauerstofftransferrate\u00a0\u00a0\u00a0\u00a0\u00a0[mmol/L/h]", "titlePadding": 20}}, "y2": {"field": "h"}}},
{"data": {"name": "b"}, "mark": {"type": "line", "strokeWidth": 1.3}, "encoding": {"x": {"field": "t", "type": "quantitative"}, "y": {"field": "m", "type": "quantitative"}, "color": {"datum": "Mittelwert 1200 µL Negativkontrolle", "scale": {"domain": ["Mittelwert 1200 µL Negativkontrolle"], "range": ["#a3121c"]}, "legend": {"orient": "none", "legendX": 483, "legendY": -2.5}}}},
{"data": {"name": "b"}, "mark": {"type": "point", "filled": true, "shape": "circle", "size": 8, "opacity": 1, "color": "#a3121c"}, "encoding": {"x": {"field": "t", "type": "quantitative"}, "y": {"field": "m", "type": "quantitative"}}},
{"data": {"values": [{"s": "σ"}]}, "mark": {"type": "text", "align": "left", "baseline": "middle", "fontSize": 24, "fontWeight": "bold", "color": "#111"}, "encoding": {"x": {"datum": 21.49}, "y": {"datum": 8.34}, "text": {"field": "s"}}},
{"data": {"values": [{"s": "t"}]}, "mark": {"type": "text", "align": "left", "baseline": "middle", "fontSize": 15, "fontWeight": "bold", "color": "#111", "dx": 16, "dy": 14}, "encoding": {"x": {"datum": 21.49}, "y": {"datum": 8.34}, "text": {"field": "s"}}},
{"data": {"values": [{"s": "= 0,81 h"}]}, "mark": {"type": "text", "align": "left", "baseline": "middle", "fontSize": 24, "fontWeight": "bold", "color": "#111", "dx": 23}, "encoding": {"x": {"datum": 21.49}, "y": {"datum": 8.34}, "text": {"field": "s"}}}
]
},
{
"width": 993, "height": 191,
"layer": [
{"data": {"name": "c"}, "mark": {"type": "area", "color": "#e6cadc", "opacity": 1}, "encoding": {"x": {"field": "t", "type": "quantitative", "scale": {"domain": [0, 42], "nice": false}, "axis": {"values": [0, 6, 12, 18, 24, 30, 36, 42], "title": "Zeit\u00a0\u00a0\u00a0[h]", "labelPadding": 4, "titlePadding": 3}}, "y": {"field": "l", "type": "quantitative", "scale": {"domain": [0, 12], "nice": false}, "axis": {"values": [0, 3, 6, 9], "title": null}}, "y2": {"field": "h"}}},
{"data": {"name": "c"}, "mark": {"type": "line", "strokeWidth": 1.3}, "encoding": {"x": {"field": "t", "type": "quantitative"}, "y": {"field": "m", "type": "quantitative"}, "color": {"datum": "Mittelwert 2400 µL Negativkontrolle", "scale": {"domain": ["Mittelwert 2400 µL Negativkontrolle"], "range": ["#861650"]}, "legend": {"orient": "none", "legendX": 483, "legendY": 1.5}}}},
{"data": {"name": "c"}, "mark": {"type": "point", "filled": true, "shape": "circle", "size": 8, "opacity": 1, "color": "#861650"}, "encoding": {"x": {"field": "t", "type": "quantitative"}, "y": {"field": "m", "type": "quantitative"}}},
{"data": {"values": [{"s": "σ"}]}, "mark": {"type": "text", "align": "left", "baseline": "middle", "fontSize": 24, "fontWeight": "bold", "color": "#111"}, "encoding": {"x": {"datum": 21.35}, "y": {"datum": 8.31}, "text": {"field": "s"}}},
{"data": {"values": [{"s": "t"}]}, "mark": {"type": "text", "align": "left", "baseline": "middle", "fontSize": 15, "fontWeight": "bold", "color": "#111", "dx": 15, "dy": 13}, "encoding": {"x": {"datum": 21.35}, "y": {"datum": 8.31}, "text": {"field": "s"}}},
{"data": {"values": [{"s": "= 0,58 h"}]}, "mark": {"type": "text", "align": "left", "baseline": "middle", "fontSize": 24, "fontWeight": "bold", "color": "#111", "dx": 22}, "encoding": {"x": {"datum": 21.35}, "y": {"datum": 8.31}, "text": {"field": "s"}}}
]
}
],
"config": {
"font": "Liberation Sans",
"view": {"stroke": "#111", "strokeWidth": 2},
"axis": {"labelFont": "Liberation Sans", "labelFontSize": 20, "labelColor": "#222", "titleFont": "Liberation Sans", "titleFontSize": 25, "titleFontWeight": "bold", "titleColor": "#111", "tickColor": "#111", "tickWidth": 1.5, "tickSize": 6, "domain": false, "grid": false, "labelFlush": false, "labelPadding": 3},
"legend": {"title": null, "padding": 0, "symbolType": "M-1,0H1M-0.06,-0.06H0.06V0.06H-0.06Z", "symbolSize": 2025, "symbolStrokeWidth": 1.3, "labelFont": "Liberation Sans", "labelFontSize": 20, "labelColor": "#222", "labelOffset": 7, "labelLimit": 0},
"text": {"font": "Liberation Sans"}
}
}
